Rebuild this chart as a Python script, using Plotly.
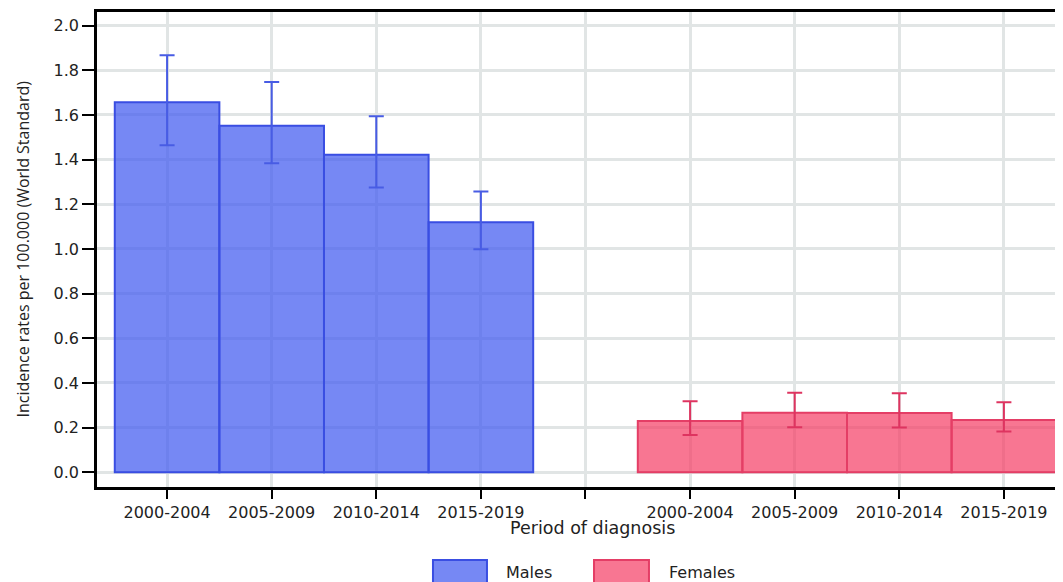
import plotly.graph_objects as go

periods = ["2000-2004", "2005-2009", "2010-2014", "2015-2019"]
males = [1.657, 1.552, 1.422, 1.120]
males_hi = [1.867, 1.748, 1.594, 1.257]
males_lo = [1.464, 1.384, 1.275, 0.999]
females = [0.230, 0.266, 0.265, 0.234]
females_hi = [0.318, 0.356, 0.354, 0.313]
females_lo = [0.167, 0.201, 0.200, 0.182]

n = len(periods)
x_m = [i + 1 for i in range(n)]
x_f = [i + n + 2 for i in range(n)]

blue_fill = "rgba(65,90,240,0.72)"
blue_line = "rgb(58,78,226)"
pink_fill = "rgba(245,60,100,0.70)"
pink_line = "rgb(228,62,102)"

fig = go.Figure()
fig.add_trace(go.Bar(
    x=x_m, y=males, width=1.0, name="Males",
    marker=dict(color=blue_fill, line=dict(color=blue_line, width=2)),
    error_y=dict(type="data", symmetric=False,
                 array=[h - v for h, v in zip(males_hi, males)],
                 arrayminus=[v - l for v, l in zip(males, males_lo)],
                 color="rgb(72,92,228)", thickness=2, width=7.5),
    showlegend=False,
))
fig.add_trace(go.Bar(
    x=x_f, y=females, width=1.0, name="Females",
    marker=dict(color=pink_fill, line=dict(color=pink_line, width=2)),
    error_y=dict(type="data", symmetric=False,
                 array=[h - v for h, v in zip(females_hi, females)],
                 arrayminus=[v - l for v, l in zip(females, females_lo)],
                 color="rgb(222,52,96)", thickness=2, width=7.5),
    showlegend=False,
))

tickvals = x_m + [n + 1] + x_f
ticktext = periods + [""] + periods

grid = "#e1e5e5"
fig.update_layout(
    width=1055, height=574,
    margin=dict(l=89, r=0, t=4, b=95, autoexpand=False),
    paper_bgcolor="white", plot_bgcolor="white",
    font=dict(family="DejaVu Sans", size=16, color="#222"),
    barmode="overlay",
    xaxis=dict(range=[0.33, 9.565], tickvals=tickvals, ticktext=ticktext,
               showgrid=True, gridcolor=grid, gridwidth=2.5,
               showline=True, linecolor="black", linewidth=2.5, mirror=True,
               ticks="outside", ticklen=9, tickwidth=2, tickcolor="black",
               zeroline=False, tickfont=dict(size=16), automargin=False),
    yaxis=dict(range=[-0.066, 2.061], tickvals=[0, 0.2, 0.4, 0.6, 0.8, 1.0, 1.2, 1.4, 1.6, 1.8, 2.0],
               tickformat=".1f",
               showgrid=True, gridcolor=grid, gridwidth=2.5,
               showline=True, linecolor="black", linewidth=2.5,
               ticks="outside", ticklen=12, tickwidth=2, tickcolor="black",
               zeroline=False, tickfont=dict(size=16), automargin=False),
)

fig.add_annotation(text="Incidence rates per 100.000 (World Standard)", xref="paper", yref="paper",
                   x=-0.0776, y=0.5, textangle=-90, showarrow=False,
                   xanchor="center", yanchor="middle",
                   font=dict(family="Open Sans", size=16, color="#222"))
fig.add_annotation(text="Period of diagnosis", xref="paper", yref="paper",
                   x=0.513, y=-0.0863, showarrow=False, yanchor="middle",
                   font=dict(family="DejaVu Sans", size=17.5, color="#222"))

# manual legend
for (name, fill, line, x0, x1, xt) in [
    ("Males", blue_fill, blue_line, 0.3478, 0.4037, 0.4213),
    ("Females", pink_fill, pink_line, 0.5145, 0.5714, 0.590),
]:
    fig.add_shape(type="rect", xref="paper", yref="paper", x0=x0, x1=x1, y0=-0.215, y1=-0.1537,
                  fillcolor=fill, line=dict(color=line, width=2))
    fig.add_annotation(text=name, xref="paper", yref="paper", x=xt, y=-0.181,
                       xanchor="left", yanchor="middle", showarrow=False,
                       font=dict(family="DejaVu Sans", size=16, color="#222"))

fig.write_html("out.html")
